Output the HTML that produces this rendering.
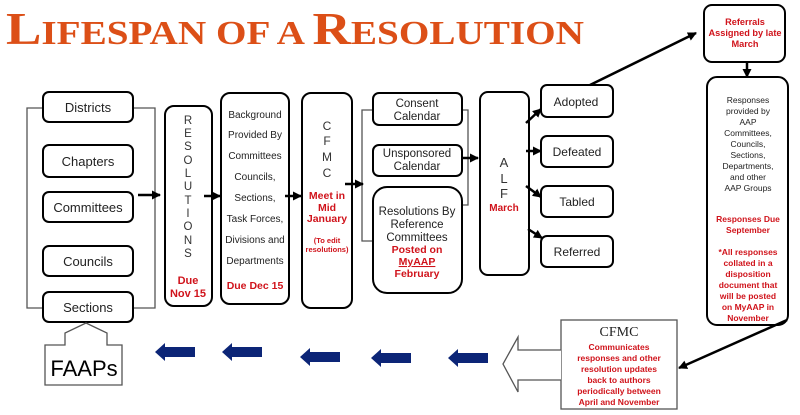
<!DOCTYPE html>
<html><head><meta charset="utf-8"><style>
html,body{margin:0;padding:0;background:#fff;width:800px;height:415px;overflow:hidden}
svg{display:block}
text{font-family:"Liberation Sans",Arial,sans-serif}
.r{fill:#d0131b;font-weight:bold}
</style></head><body>
<svg width="800" height="415" viewBox="0 0 800 415" xmlns="http://www.w3.org/2000/svg">
<defs>
<marker id="ah" markerWidth="9" markerHeight="9" refX="8" refY="4.5" orient="auto" markerUnits="userSpaceOnUse"><path d="M0,0 L9,4.5 L0,9 z" fill="#000"/></marker>
</defs>
<text x="6" y="44" font-weight="bold" fill="#dc4f17" textLength="578" lengthAdjust="spacingAndGlyphs" style="font-family:'Liberation Serif',serif"><tspan font-size="46">L</tspan><tspan font-size="34">IFESPAN OF A </tspan><tspan font-size="46">R</tspan><tspan font-size="34">ESOLUTION</tspan></text>

<g fill="none" stroke="#555" stroke-width="1.3">
<polyline points="43,108 27,108 27,308 43,308"/>
<polyline points="133,108 155,108 155,308 133,308"/>
<polyline points="373,110 362,110 362,241 373,241"/>
<polyline points="462,110 468,110 468,205 462,205"/>
</g>
<g fill="#fff" stroke="#000" stroke-width="2">
<rect x="43" y="92" width="90" height="30" rx="6"/>
<rect x="43" y="145" width="90" height="32" rx="6"/>
<rect x="43" y="192" width="90" height="30" rx="6"/>
<rect x="43" y="246" width="90" height="30" rx="6"/>
<rect x="43" y="292" width="90" height="30" rx="6"/>
<rect x="165" y="106" width="47" height="200" rx="9"/>
<rect x="221" y="93" width="68" height="211" rx="9"/>
<rect x="302" y="93" width="50" height="215" rx="9"/>
<rect x="373" y="93" width="89" height="32" rx="6"/>
<rect x="373" y="145" width="89" height="31" rx="6"/>
<rect x="373" y="187" width="89" height="106" rx="14"/>
<rect x="480" y="92" width="49" height="183" rx="8"/>
<rect x="541" y="85" width="72" height="32" rx="6"/>
<rect x="541" y="136" width="72" height="31" rx="6"/>
<rect x="541" y="186" width="72" height="31" rx="6"/>
<rect x="541" y="236" width="72" height="31" rx="6"/>
<rect x="704" y="5" width="81" height="57" rx="8"/>
<rect x="707" y="77" width="81" height="248" rx="10"/>
</g>
<rect x="561" y="320" width="116" height="89" fill="#fff" stroke="#555" stroke-width="1.3"/>
<path d="M561,350 L518,350 L518,337 L503,364 L518,392 L518,380 L561,380" fill="#fff" stroke="#555" stroke-width="1.3"/>
<path d="M45,385 L45,345 L65,345 L65,333 L86,323 L107,333 L107,345 L122,345 L122,385 Z" fill="#fff" stroke="#555" stroke-width="1.3"/>

<g stroke="#000" stroke-width="2.5" marker-end="url(#ah)">
<line x1="138" y1="195" x2="160" y2="195"/>
<line x1="204" y1="196" x2="220" y2="196"/>
<line x1="285" y1="196" x2="301" y2="196"/>
<line x1="345" y1="184" x2="363" y2="184"/>
<line x1="462" y1="158" x2="478" y2="158"/>
<line x1="526" y1="123" x2="541" y2="109"/>
<line x1="526" y1="151" x2="541" y2="151"/>
<line x1="526" y1="186" x2="541" y2="197"/>
<line x1="528" y1="229" x2="542" y2="238"/>
<line x1="590" y1="85" x2="696" y2="33"/>
<line x1="747" y1="62" x2="747" y2="77"/>
<line x1="787" y1="320" x2="679" y2="368"/>
</g>
<g fill="#0c2577">
<path d="M155,352 L165,343 L165,347 L195,347 L195,357 L165,357 L165,361 Z"/>
<path d="M222,352 L232,343 L232,347 L262,347 L262,357 L232,357 L232,361 Z"/>
<path d="M300,357 L310,348 L310,352 L340,352 L340,362 L310,362 L310,366 Z"/>
<path d="M371,358 L381,349 L381,353 L411,353 L411,363 L381,363 L381,367 Z"/>
<path d="M448,358 L458,349 L458,353 L488,353 L488,363 L458,363 L458,367 Z"/>
</g>

<g font-size="13" fill="#222" text-anchor="middle">
<text x="88" y="112">Districts</text>
<text x="88" y="166">Chapters</text>
<text x="88" y="212">Committees</text>
<text x="88" y="266">Councils</text>
<text x="88" y="312">Sections</text>
<text x="84" y="376" font-size="22" fill="#000">FAAPs</text>
</g>
<g font-size="11.5" fill="#333" text-anchor="middle">
<text x="188" y="124">R</text><text x="188" y="137">E</text><text x="188" y="150">S</text><text x="188" y="164">O</text><text x="188" y="177">L</text><text x="188" y="190">U</text><text x="188" y="204">T</text><text x="188" y="217">I</text><text x="188" y="230">O</text><text x="188" y="244">N</text><text x="188" y="257">S</text>
</g>
<text x="188" y="284" font-size="11" class="r" text-anchor="middle">Due</text>
<text x="188" y="297" font-size="11" class="r" text-anchor="middle">Nov 15</text>
<g font-size="10" fill="#222" text-anchor="middle">
<text x="255" y="118">Background</text>
<text x="255" y="138">Provided By</text>
<text x="255" y="159">Committees</text>
<text x="255" y="180">Councils,</text>
<text x="255" y="201">Sections,</text>
<text x="255" y="222">Task Forces,</text>
<text x="255" y="243">Divisions and</text>
<text x="255" y="264">Departments</text>
</g>
<text x="255" y="289" font-size="10.5" class="r" text-anchor="middle">Due Dec 15</text>
<g font-size="12" fill="#333" text-anchor="middle">
<text x="327" y="130">C</text><text x="327" y="145">F</text><text x="327" y="161">M</text><text x="327" y="177">C</text>
</g>
<g class="r" font-size="10.5" text-anchor="middle">
<text x="327" y="199">Meet in</text><text x="327" y="211">Mid</text><text x="327" y="222">January</text>
<text x="327" y="243" font-size="7.5">(To edit</text><text x="327" y="252" font-size="7.5">resolutions)</text>
</g>
<g font-size="11.5" fill="#222" text-anchor="middle">
<text x="417" y="107">Consent</text><text x="417" y="120">Calendar</text>
<text x="417" y="157">Unsponsored</text><text x="417" y="170">Calendar</text>
<text x="417" y="215">Resolutions By</text><text x="417" y="228">Reference</text><text x="417" y="241">Committees</text>
</g>
<g class="r" font-size="10.5" text-anchor="middle">
<text x="417" y="253">Posted on</text>
<text x="417" y="265" text-decoration="underline">MyAAP</text>
<text x="417" y="277">February</text>
</g>
<g font-size="13" fill="#333" text-anchor="middle">
<text x="504" y="167">A</text><text x="504" y="183">L</text><text x="504" y="198">F</text>
</g>
<text x="504" y="211" font-size="10" class="r" text-anchor="middle">March</text>
<g font-size="12" fill="#222" text-anchor="middle">
<text x="576" y="106">Adopted</text>
<text x="577" y="156">Defeated</text>
<text x="577" y="206">Tabled</text>
<text x="577" y="256">Referred</text>
</g>
<g class="r" font-size="9.2" text-anchor="middle">
<text x="745" y="25">Referrals</text><text x="745" y="36">Assigned by late</text><text x="745" y="47">March</text>
</g>
<g font-size="8.5" fill="#222" text-anchor="middle">
<text x="748" y="103">Responses</text><text x="748" y="114">provided by</text><text x="748" y="125">AAP</text><text x="748" y="136">Committees,</text><text x="748" y="147">Councils,</text><text x="748" y="158">Sections,</text><text x="748" y="169">Departments,</text><text x="748" y="180">and other</text><text x="748" y="191">AAP Groups</text>
</g>
<g class="r" font-size="8.5" text-anchor="middle">
<text x="748" y="222">Responses Due</text><text x="748" y="233">September</text>
<text x="748" y="255">*All responses</text><text x="748" y="266">collated in a</text><text x="748" y="277">disposition</text><text x="748" y="288">document that</text><text x="748" y="299">will be posted</text><text x="748" y="310">on MyAAP in</text><text x="748" y="321">November</text>
</g>
<text x="619" y="336" font-size="14" fill="#222" text-anchor="middle" style="font-family:'Liberation Serif',serif">CFMC</text>
<g class="r" font-size="8.5" text-anchor="middle">
<text x="619" y="350">Communicates</text><text x="619" y="361">responses and other</text><text x="619" y="372">resolution updates</text><text x="619" y="383">back to authors</text><text x="619" y="394">periodically between</text><text x="619" y="405">April and November</text>
</g>
</svg>
</body></html>
